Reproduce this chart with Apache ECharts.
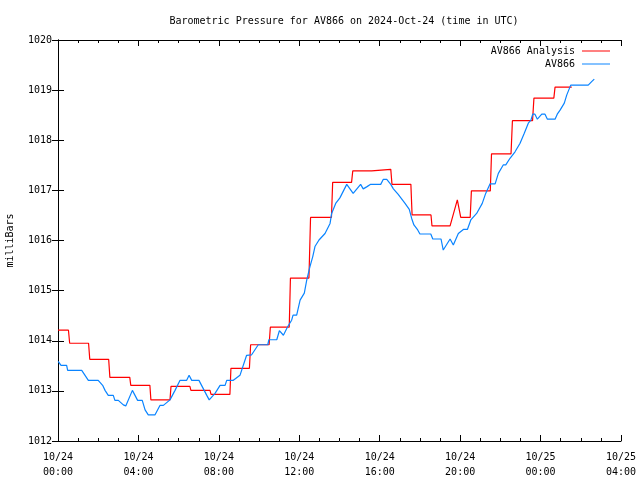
<!DOCTYPE html>
<html><head><meta charset="utf-8">
<script src="https://cdn.jsdelivr.net/npm/echarts@6/dist/echarts.min.js"></script>
<style>html,body{margin:0;padding:0;background:#fff}#c{width:640px;height:480px}</style>
</head><body><div id="c"></div>
<script>
// Hours since 2024-10-24 00:00 UTC
var xTickLabels = ['10/24\n00:00','10/24\n04:00','10/24\n08:00','10/24\n12:00','10/24\n16:00','10/24\n20:00','10/25\n00:00','10/25\n04:00'];

// AV866 Analysis (hourly analysis levels, each with start/end hour)
var analysisStart  = [0, 0.58, 1.58, 2.58, 3.62, 4.62, 5.62, 6.61, 7.61, 8.60, 9.58, 10.56, 11.56, 12.56, 13.66, 14.66, 15.62, 16.61, 17.61, 18.60, 19.86, 20.03, 20.56, 21.56, 22.60, 23.67, 24.72];
var analysisEnd    = [0.52, 1.52, 2.52, 3.57, 4.57, 5.57, 6.56, 7.56, 8.55, 9.52, 10.5, 11.5, 12.48, 13.6, 14.6, 15.6, 16.55, 17.55, 18.55, 19.5, 19.86, 20.5, 21.5, 22.53, 23.6, 24.66, 25.55];
var analysisValues = [1014.21, 1013.95, 1013.63, 1013.27, 1013.11, 1012.82, 1013.09, 1013.01, 1012.93, 1013.45, 1013.92, 1014.27, 1015.25, 1016.46, 1017.16, 1017.39, 1017.42, 1017.12, 1016.51, 1016.29, 1016.81, 1016.46, 1016.99, 1017.73, 1018.39, 1018.84, 1019.06];

// AV866 observations
var obsHours = [0.01,0.15,0.43,0.48,1.18,1.51,2.00,2.22,2.34,2.50,2.75,2.83,3.00,3.25,3.37,3.70,3.96,4.19,4.33,4.49,4.82,5.07,5.24,5.57,5.82,6.07,6.40,6.52,6.65,7.01,7.40,7.52,7.81,8.06,8.31,8.39,8.72,9.05,9.38,9.63,9.96,10.43,10.49,10.88,11.01,11.21,11.42,11.62,11.69,11.87,12.04,12.25,12.37,12.53,12.67,12.78,12.98,13.28,13.53,13.61,13.81,14.02,14.36,14.68,15.05,15.18,15.35,15.55,16.05,16.18,16.35,16.55,16.68,16.92,17.26,17.47,17.59,17.70,17.89,18.00,18.54,18.64,19.05,19.16,19.50,19.66,19.91,20.16,20.36,20.53,20.82,21.10,21.27,21.49,21.74,21.90,22.15,22.27,22.48,22.73,22.98,23.19,23.39,23.52,23.61,23.72,23.84,24.06,24.22,24.34,24.72,24.83,24.97,25.18,25.30,25.50,26.37,26.54,26.67];
var obsValues = [1013.59,1013.51,1013.51,1013.41,1013.41,1013.21,1013.21,1013.11,1013.01,1012.91,1012.91,1012.81,1012.81,1012.72,1012.70,1013.01,1012.81,1012.81,1012.62,1012.52,1012.52,1012.71,1012.71,1012.82,1013.01,1013.21,1013.21,1013.31,1013.21,1013.21,1012.91,1012.82,1012.95,1013.11,1013.11,1013.21,1013.21,1013.31,1013.71,1013.72,1013.92,1013.92,1014.02,1014.02,1014.20,1014.11,1014.28,1014.41,1014.51,1014.51,1014.81,1014.95,1015.21,1015.48,1015.68,1015.88,1016.01,1016.14,1016.34,1016.54,1016.74,1016.85,1017.12,1016.94,1017.12,1017.03,1017.07,1017.12,1017.12,1017.22,1017.22,1017.12,1017.03,1016.92,1016.74,1016.62,1016.44,1016.31,1016.21,1016.13,1016.13,1016.03,1016.03,1015.81,1016.03,1015.91,1016.14,1016.22,1016.22,1016.41,1016.54,1016.74,1016.94,1017.13,1017.13,1017.34,1017.51,1017.51,1017.64,1017.77,1017.94,1018.14,1018.34,1018.40,1018.52,1018.52,1018.42,1018.52,1018.52,1018.42,1018.42,1018.52,1018.60,1018.74,1018.90,1019.10,1019.10,1019.17,1019.22];

var analysisData = [];
for (var i = 0; i < analysisValues.length; i++) {
  analysisData.push([analysisStart[i], analysisValues[i]]);
  if (analysisEnd[i] !== analysisStart[i]) analysisData.push([analysisEnd[i], analysisValues[i]]);
}
var obsData = obsHours.map(function (h, i) { return [h, obsValues[i]]; });

var FONT = 'DejaVu Sans Mono';
var tickCommon = { show: true, inside: true, length: 6, lineStyle: { color: '#000' } };
var minorCommon = { show: true, splitNumber: 4, length: 3, lineStyle: { color: '#000' } };
var lineCommon = { show: true, lineStyle: { color: '#000', width: 1 } };

var chart = echarts.init(document.getElementById('c'), null, { renderer: 'canvas' });
chart.setOption({
  animation: false,
  backgroundColor: '#fff',
  title: {
    text: 'Barometric Pressure for AV866 on 2024-Oct-24 (time in UTC)',
    left: 339, top: 11, textAlign: 'center',
    textStyle: { fontFamily: FONT, fontSize: 10, fontWeight: 'normal', color: '#000' }
  },
  legend: {
    orient: 'vertical', right: 30, top: 46, align: 'right', padding: 0,
    icon: 'rect', itemWidth: 28, itemHeight: 1, itemGap: 3,
    textStyle: { fontFamily: FONT, fontSize: 10, color: '#000', padding: [0, 2, 0, 0] },
    data: ['AV866 Analysis', 'AV866']
  },
  grid: { left: 58, right: 19, top: 40, bottom: 39, containLabel: false, outerBoundsMode: 'none' },
  xAxis: [{
    type: 'value', min: 0, max: 28, interval: 4, position: 'bottom',
    axisLine: lineCommon, axisTick: tickCommon, minorTick: minorCommon,
    splitLine: { show: false },
    axisLabel: { margin: 9, lineHeight: 15, fontFamily: FONT, fontSize: 10, color: '#000',
      formatter: function (v) { return xTickLabels[Math.round(v / 4)]; } }
  }, {
    type: 'value', min: 0, max: 28, interval: 4, position: 'top',
    axisLine: lineCommon, axisTick: tickCommon, minorTick: minorCommon,
    splitLine: { show: false }, axisLabel: { show: false }
  }],
  yAxis: [{
    type: 'value', min: 1012, max: 1020, interval: 1, position: 'left',
    name: 'milliBars', nameLocation: 'middle', nameGap: 43, nameRotate: 90,
    nameTextStyle: { fontFamily: FONT, fontSize: 10, color: '#000' },
    axisLine: lineCommon, axisTick: tickCommon, splitLine: { show: false },
    axisLabel: { margin: 6, fontFamily: FONT, fontSize: 10, color: '#000',
      formatter: function (v) { return String(v); } }
  }, {
    type: 'value', min: 1012, max: 1020, interval: 1, position: 'right',
    axisLine: lineCommon, axisTick: tickCommon, splitLine: { show: false },
    axisLabel: { show: false }
  }],
  series: [{
    name: 'AV866 Analysis', type: 'line', xAxisIndex: 0, yAxisIndex: 0,
    data: analysisData, showSymbol: false, symbol: 'none',
    lineStyle: { color: '#ff0000', width: 1.2 }, itemStyle: { color: '#ff0000' }, z: 2
  }, {
    name: 'AV866', type: 'line', xAxisIndex: 0, yAxisIndex: 0,
    data: obsData, showSymbol: false, symbol: 'none',
    lineStyle: { color: '#0a84ff', width: 1.2 }, itemStyle: { color: '#0a84ff' }, z: 3
  }]
});
</script></body></html>
